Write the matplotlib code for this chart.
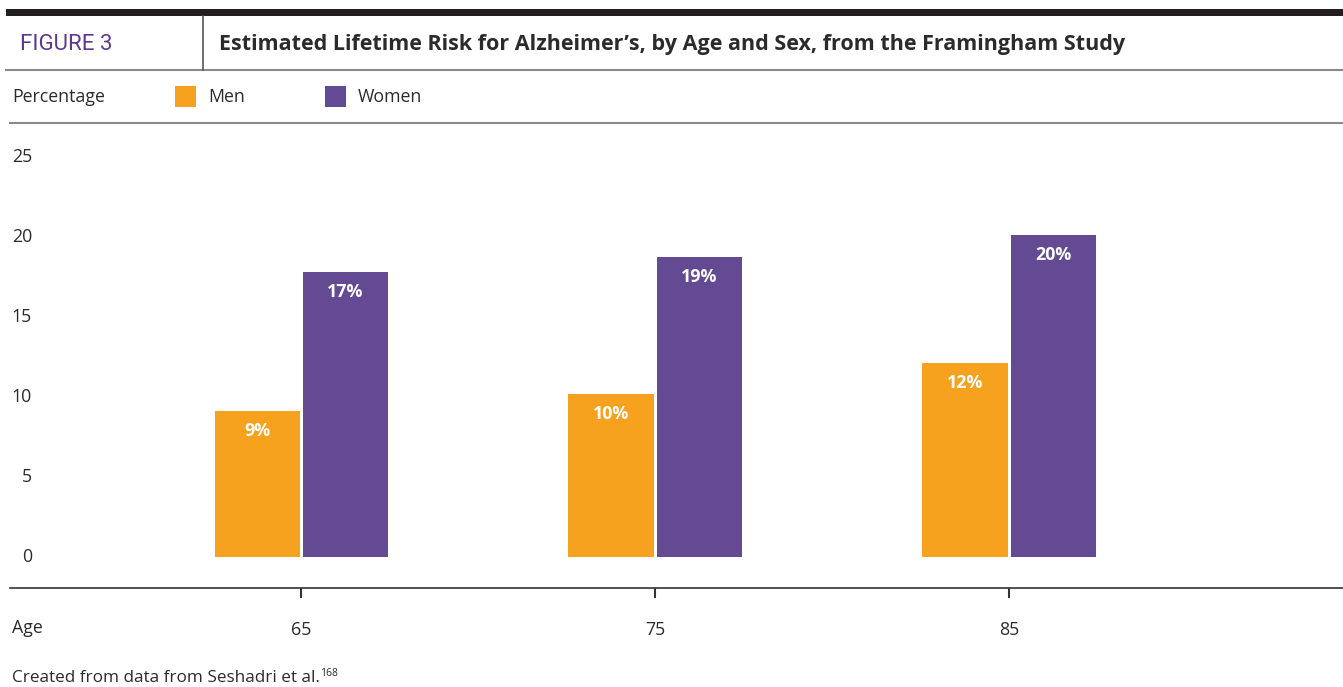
import matplotlib
matplotlib.use("Agg")
import matplotlib.pyplot as plt
from matplotlib.transforms import blended_transform_factory
from matplotlib.patches import Rectangle
from matplotlib.lines import Line2D
from matplotlib.text import Annotation

plt.rcParams['font.family'] = ['Open Sans', 'DejaVu Sans']

# ---- data ----
ages = [65, 75, 85]
age_labels = ["65", "75", "85"]
men = [9.1, 10.2, 12.1]
women = [17.8, 18.75, 20.1]
men_labels = ["9%", "10%", "12%"]
women_labels = ["17%", "19%", "20%"]
yticks = [0, 5, 10, 15, 20, 25]
series_names = ["Men", "Women"]

ORANGE = "#F7A21E"
PURPLE = "#634A93"
GRAY = "#8a8a8a"
TEXT = "#2b2b2b"
BODY = 12.8

W, H = 1343, 687
fig = plt.figure(figsize=(W / 100, H / 100), dpi=100)

def fx(px):
    return px / W

def fy(py):
    return 1 - py / H

# ---- header frame ----
fig.add_artist(Rectangle((fx(6), fy(16)), fx(1343 - 6), 7 / H, transform=fig.transFigure,
                         facecolor="#231f20", edgecolor="none"))
fig.add_artist(Line2D([fx(6), fx(1343)], [fy(70), fy(70)], transform=fig.transFigure,
                      color=GRAY, lw=1.5))
fig.add_artist(Line2D([fx(203), fx(203)], [fy(16), fy(70)], transform=fig.transFigure,
                      color="#555555", lw=1.2))
fig.add_artist(Line2D([fx(10), fx(1343)], [fy(123), fy(123)], transform=fig.transFigure,
                      color=GRAY, lw=1.5))

fig.text(fx(20), fy(44.5), "FIGURE 3", color="#5b3a94", fontsize=16,
         family=['Liberation Sans Narrow', 'Roboto', 'DejaVu Sans'], va="center", ha="left")
fig.text(fx(219), fy(44.5), "Estimated Lifetime Risk for Alzheimer\u2019s, by Age and Sex, from the Framingham Study",
         color=TEXT, fontsize=15.5, fontweight="bold", va="center", ha="left")

# ---- legend row ----
fig.text(fx(12), fy(97), "Percentage", color=TEXT, fontsize=BODY, va="center", ha="left")
for name, col, x0 in zip(series_names, [ORANGE, PURPLE], [175, 325]):
    fig.add_artist(Rectangle((fx(x0), fy(107)), fx(21), 21 / H, transform=fig.transFigure,
                             facecolor=col, edgecolor="none"))
    fig.text(fx(x0 + 33), fy(97), name, color=TEXT, fontsize=BODY, va="center", ha="left")

# ---- axes ----
ax_left, ax_right = 10, 1343
ax_top, ax_bot = 140, 588
ax = fig.add_axes([fx(ax_left), fy(ax_bot), (ax_right - ax_left) / W, (ax_bot - ax_top) / H])
px_per_year = 354 / 10
x0_age = 65 - (301 - ax_left) / px_per_year
x1_age = 65 + (ax_right - 301) / px_per_year
ax.set_xlim(x0_age, x1_age)
px_per_unit = 16
ax.set_ylim(-(ax_bot - 557) / px_per_unit, (557 - ax_top) / px_per_unit)

bw = 85 / px_per_year
off = 44 / px_per_year
xm = [a - off for a in ages]
xw = [a + off for a in ages]
ax.bar(xm, men, width=bw, color=ORANGE, edgecolor="none")
ax.bar(xw, women, width=bw, color=PURPLE, edgecolor="none")

lab_off = 20 / px_per_unit
for x, v, l in zip(xm, men, men_labels):
    ax.text(x, v - lab_off, l, color="white", fontsize=12.8, fontweight="bold", ha="center", va="center")
for x, v, l in zip(xw, women, women_labels):
    ax.text(x, v - lab_off, l, color="white", fontsize=12.8, fontweight="bold", ha="center", va="center")

for s in ["top", "right", "left"]:
    ax.spines[s].set_visible(False)
ax.spines["bottom"].set_color("#333333")
ax.spines["bottom"].set_linewidth(1.2)
ax.set_yticks([])
ax.set_xticks(ages)
ax.set_xticklabels(age_labels, fontsize=BODY, color=TEXT)
ax.tick_params(axis="x", length=7.5, width=1.5, color="#333333", pad=16)

ytr = blended_transform_factory(fig.transFigure, ax.transData)
for t in yticks:
    ax.text(fx(32), t, str(t), transform=ytr, ha="right", va="center", fontsize=BODY, color=TEXT)

fig.text(fx(12), fy(628), "Age", color=TEXT, fontsize=BODY, va="center", ha="left")

foot = fig.text(fx(12), fy(678), "Created from data from Seshadri et al.", color=TEXT,
                fontsize=12.3, va="center", ha="left")
fig.add_artist(Annotation("168", xy=(1, 0.8), xycoords=foot, xytext=(0, 0), textcoords="offset points",
                          fontsize=7.5, color=TEXT, va="center", ha="left"))

fig.savefig("out.png", dpi=100)
